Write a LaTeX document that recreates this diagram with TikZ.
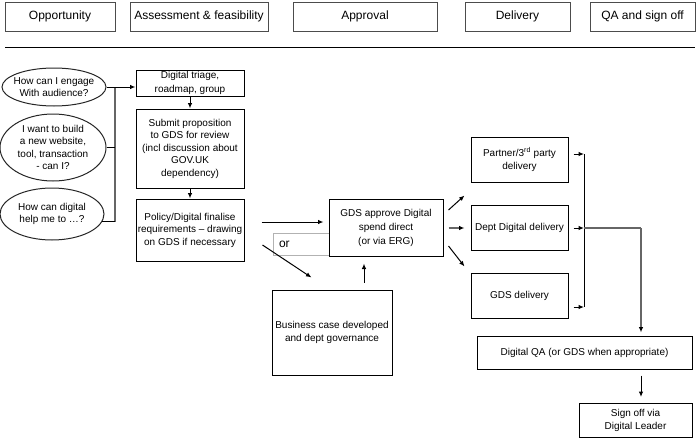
\documentclass[tikz,border=0pt]{standalone}
\usepackage{fontspec}
\setmainfont{Liberation Sans}
\usetikzlibrary{calc,arrows.meta,shapes.geometric}
\begin{document}
\begin{tikzpicture}[x=1pt,y=-1pt,
  box/.style={draw=black, line width=1pt, fill=white, align=center, inner sep=1pt, font=\fontsize{10}{12.5}\selectfont},
  hdr/.style={draw=black!70, line width=1pt, minimum height=29pt, font=\fontsize{12}{14}\selectfont, inner sep=0pt},
  oval/.style={draw=black!85, line width=1pt, ellipse, inner sep=0pt},
  otext/.style={align=center, font=\fontsize{10}{12.5}\selectfont},
  arr/.style={line width=1pt, -{Latex[length=5.5pt,width=4.5pt]}},
  plain/.style={line width=1pt},
  gline/.style={draw=black!60, line width=1.6pt},
  garr/.style={draw=black!60, line width=1.6pt, -{Latex[length=5.5pt,width=4.5pt,color=black]}},
  orbox/.style={draw=black!30, line width=1pt, minimum width=56pt, minimum height=22pt, text width=44pt, inner sep=6pt, align=left, font=\fontsize{12}{14}\selectfont},
]
\useasboundingbox (0,0) rectangle (699,439);

% headers
\node[hdr, minimum width=110pt] (h1) at (60,16.5) {Opportunity};
\node[hdr, minimum width=138pt] (h2) at (199,16.5) {Assessment \& feasibility};
\node[hdr, minimum width=144pt] (h3) at (365,16.5) {Approval};
\node[hdr, minimum width=105pt] (h4) at (517.5,16.5) {Delivery};
\node[hdr, minimum width=105pt] (h5) at (642.5,16.5) {QA and sign off};
\coordinate (ls) at (5,47);
\coordinate (le) at (695,47);
\draw[plain] (ls) -- (le);

% ellipses
\node[oval, minimum width=104pt, minimum height=38pt] (e1) at (54,87) {};
\node[otext] at (e1) {How can I engage\\With audience?};
\node[oval, minimum width=106pt, minimum height=67pt] (e2) at (53,147.5) {};
\node[otext] at (e2) {I want to build\\a new website,\\tool, transaction\\- can I?};
\node[oval, minimum width=104pt, minimum height=52pt] (e3) at (52,214) {};
\node[otext] at (e3) {How can digital\\help me to …?};

% assessment column
\node[box, minimum width=108pt, minimum height=26pt, font=\fontsize{10}{14}\selectfont] (tri) at (190,83) {Digital triage,\\roadmap, group};
\node[box, minimum width=108pt, minimum height=79pt] (sub) at (190,148.5) {Submit proposition\\to GDS for review\\(incl discussion about\\GOV.UK\\dependency)};
\node[box, minimum width=108pt, minimum height=62pt] (pol) at (190,230) {Policy/Digital finalise\\requirements – drawing\\on GDS if necessary};

% bracket from ellipses
\coordinate (b1) at (115,87);
\coordinate (b3) at (115,222);
\draw[gline, line width=1.3pt] (b1) -- (b3);
\draw[plain] (e1.east) -- (b1);
\draw[plain] (e2.east) -- (e2.east -| b1);
\draw[plain] (e3.-9) -- (e3.-9 -| b1);
\draw[arr] (b1) -- (b1 -| tri.west);
\draw[arr] (tri) -- (sub);
\draw[arr] (sub) -- (pol);

% approval
\node[orbox] (or) at (301,244) {or};
\node[box, minimum width=114pt, minimum height=57pt, font=\fontsize{10}{14}\selectfont] (gds) at (386,227.5) {GDS approve Digital\\spend direct\\(or via ERG)};
\node[box, minimum width=120pt, minimum height=85pt] (bus) at (332,332.5) {Business case developed\\and dept governance};

\draw[arr, shorten <=17pt, shorten >=5pt] ([yshift=8pt]pol.east) -- ([yshift=8pt]pol.east -| gds.west);
\draw[arr] ($(pol.east)+(18,15)$) -- ($(bus.north west)+(40,-12)$);
\draw[arr] ($(bus.north)+(32,-7)$) -- ($(gds.south)+(-22,7)$);

% delivery
\node[box, minimum width=97pt, minimum height=45pt] (par) at (519.5,159.5) {Partner/3\textsuperscript{rd} party\\delivery};
\node[box, minimum width=97pt, minimum height=45pt] (dep) at (519.5,227.5) {Dept Digital delivery};
\node[box, minimum width=97pt, minimum height=45pt] (gdel) at (519.5,295.5) {GDS delivery};

\draw[arr] ($(gds.east)+(5,-17.5)$) -- ($(par.south west)+(-6,13)$);
\draw[garr] ($(gds.east)+(5,0.5)$) -- ($(dep.west)+(-6,0.5)$);
\draw[arr] ($(gds.east)+(5,18.5)$) -- ($(gdel.north west)+(-6,-6)$);

\coordinate (r1) at (584,154);
\coordinate (r2) at (584,228);
\coordinate (r3) at (584,307);
\coordinate (rt) at (641,228);
\draw[plain] (r1) -- (r3);
\draw[arr, shorten <=5pt] (par.east |- r1) -- (r1);
\draw[arr, shorten <=5pt] (dep.east |- r2) -- (r2);
\draw[arr, shorten <=5pt] (gdel.east |- r3) -- (r3);

% QA
\node[box, minimum width=215pt, minimum height=33pt] (qa) at (584.5,352.5) {Digital QA (or GDS when appropriate)};
\node[box, minimum width=113pt, minimum height=34pt] (so) at (635.5,420.5) {Sign off via\\Digital Leader};
\draw[gline] (r2) -- (rt);
\draw[garr, shorten >=3pt] (rt) -- (rt |- qa.north);
\draw[arr, shorten <=6pt, shorten >=6pt] (rt |- qa.south) -- (rt |- so.north);
\end{tikzpicture}
\end{document}
